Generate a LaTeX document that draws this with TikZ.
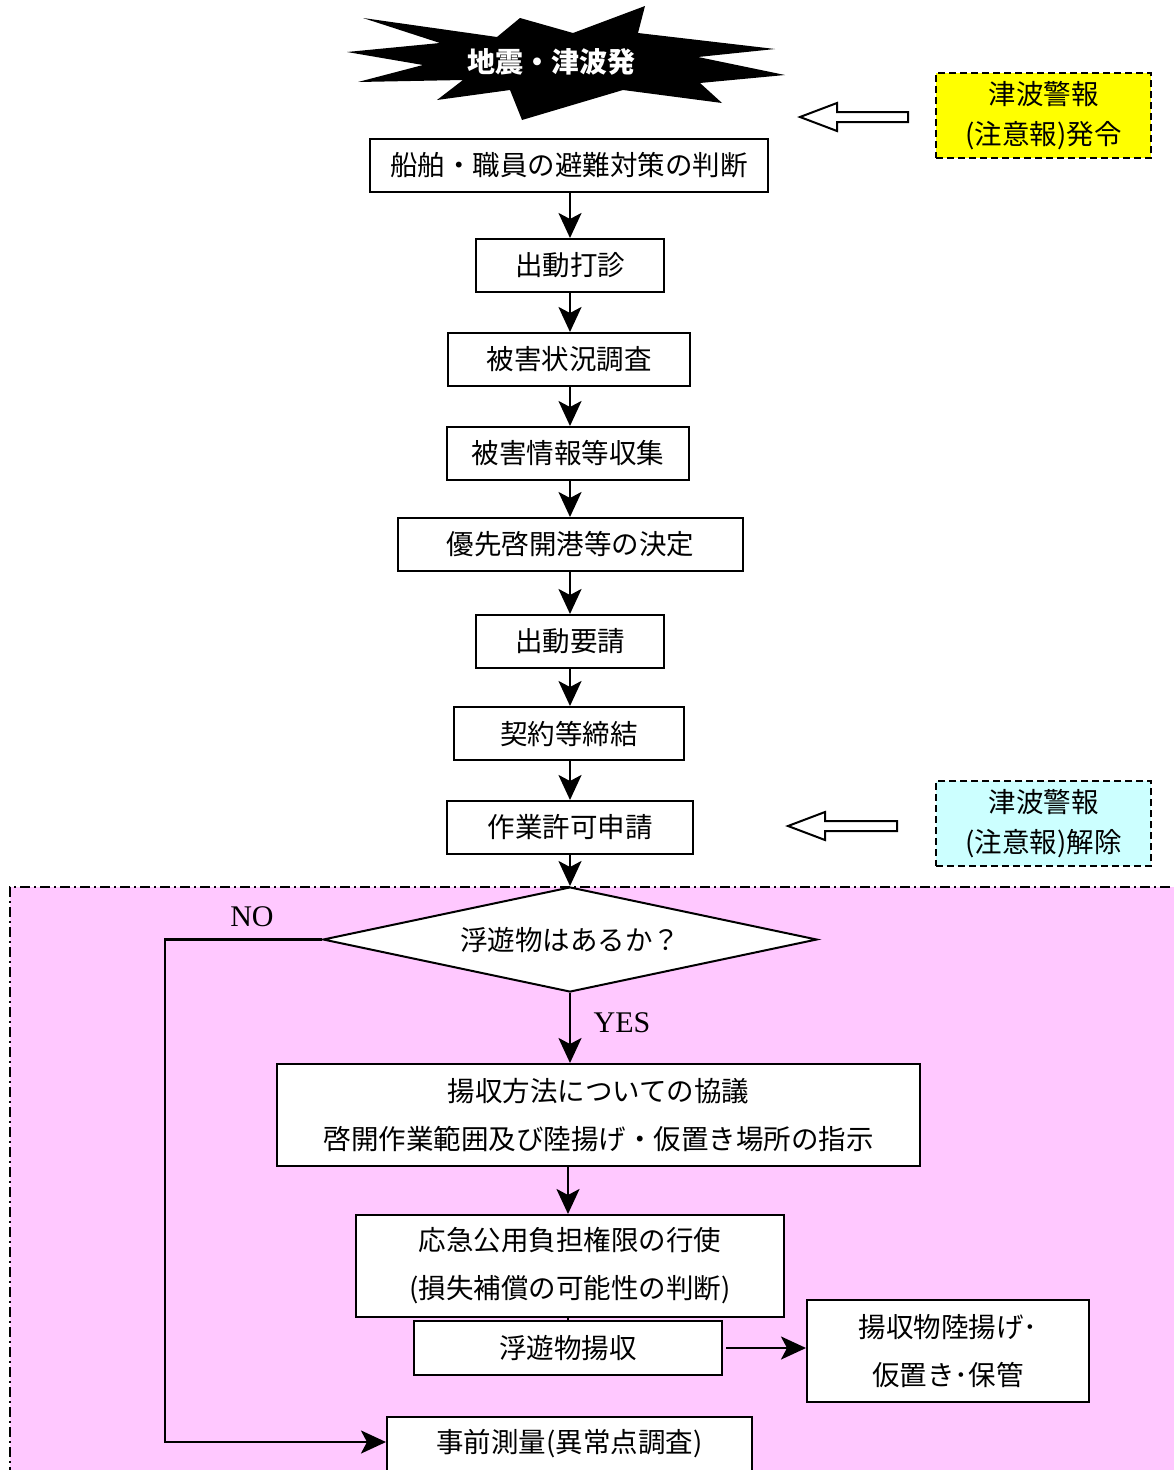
\documentclass[tikz,border=0pt]{standalone}
\usepackage{fontspec}
\setmainfont{Noto Sans CJK JP}
\newfontfamily\latinserif{Liberation Serif}
\usetikzlibrary{arrows.meta,shapes.geometric}
\definecolor{pinkbg}{RGB}{255,200,255}
\definecolor{cyanbg}{RGB}{204,255,255}
\definecolor{yellowbg}{RGB}{255,255,0}
\tikzset{
  box/.style={draw, line width=2pt, fill=white, inner sep=0pt, minimum height=53pt,
    font=\fontsize{27.5}{48}\selectfont, align=center},
  tallbox/.style={box, minimum height=102pt},
  notebox/.style={draw, dashed, dash pattern=on 7pt off 4pt, line width=2pt, inner sep=0pt,
    minimum width=215pt, minimum height=85pt, font=\fontsize{27.5}{40}\selectfont, align=center},
  flow/.style={line width=2.6pt, -{Stealth[length=25pt,width=23pt,inset=6pt]}},
  plain/.style={line width=2pt},
  lbl/.style={font=\latinserif\fontsize{30}{32}\selectfont, inner sep=0pt},
  hollow/.style={draw, line width=2pt, fill=white},
}
\begin{document}
\begin{tikzpicture}[x=1pt,y=-1pt]
\useasboundingbox (0,0) rectangle (1173,1470);
\fill[white] (0,0) rectangle (1173,1470);
% pink region
\fill[pinkbg] (10,887) rectangle (1190,1490);
\draw[line width=2pt, dash pattern=on 10pt off 4pt on 2pt off 4pt] (1190,887) -- (10,887) -- (10,1490);
% starburst
\fill[black] (347,52) -- (440,43) -- (363,18) -- (497,37) -- (520,18) -- (573,33) -- (645,6)
  -- (638,33) -- (775,49) -- (698,57) -- (785,75) -- (700,83) -- (722,103) -- (623,90)
  -- (522,120) -- (510,90) -- (437,100) -- (463,80) -- (358,82) -- (423,65) -- cycle;
\node[text=white, font=\fontsize{28}{30}\selectfont\bfseries, inner sep=0pt] (quake) at (551,62) {地震・津波発};
% notes
\node[notebox, fill=yellowbg] (warn) at (1043.5,115.5) {津波警報\\(注意報)発令};
\node[notebox, fill=cyanbg] (clear) at (1043.5,823.5) {津波警報\\(注意報)解除};
\draw[hollow] (800,117) -- (837,103) -- (837,112) -- (908,112) -- (908,122) -- (837,122) -- (837,131) -- cycle;
\draw[hollow] (788,826) -- (825,812) -- (825,821) -- (897,821) -- (897,831) -- (825,831) -- (825,840) -- cycle;
% main flow boxes
\node[box, minimum width=398pt] (b1) at (569,165.5) {船舶・職員の避難対策の判断};
\node[box, minimum width=188pt] (b2) at (570,265.5) {出動打診};
\node[box, minimum width=242pt] (b3) at (569,359.5) {被害状況調査};
\node[box, minimum width=242pt] (b4) at (568,453.5) {被害情報等収集};
\node[box, minimum width=345pt] (b5) at (570.5,544.5) {優先啓開港等の決定};
\node[box, minimum width=188pt] (b6) at (570,641.5) {出動要請};
\node[box, minimum width=230pt] (b7) at (569,733.5) {契約等締結};
\node[box, minimum width=246pt] (b8) at (570,827.5) {作業許可申請};
\node[diamond, draw, line width=2pt, fill=white, inner sep=0pt, aspect=4.7,
  minimum width=494pt, minimum height=105pt, font=\fontsize{27.5}{30}\selectfont] (q) at (570,939.5) {浮遊物はあるか？};
\node[tallbox, minimum width=643pt] (b9) at (598.5,1115) {揚収方法についての協議\\啓開作業範囲及び陸揚げ・仮置き場所の指示};
\node[tallbox, minimum width=428pt] (b10) at (570,1266) {応急公用負担権限の行使\\(損失補償の可能性の判断)};
\node[box, minimum width=308pt, minimum height=54pt] (b11) at (568,1348) {浮遊物揚収};
\node[tallbox, minimum width=282pt] (b12) at (948,1351) {揚収物陸揚げ･\\仮置き･保管};
\node[box, minimum width=365pt, minimum height=54pt] (b13) at (569.5,1444) {事前測量(異常点調査)};
% connectors
\foreach \a/\b in {b1/b2,b2/b3,b3/b4,b4/b5,b5/b6,b6/b7,b7/b8} {
  \draw[flow] (570,0 |- \a.south) -- (570,0 |- \b.north);
}
\draw[flow] (570,0 |- b8.south) -- (q.north);
\draw[flow] (q.south) -- (570,0 |- b9.north);
\draw[flow] (568,0 |- b9.south) -- (568,0 |- b10.north);
\draw[plain] (568,0 |- b10.south) -- (568,0 |- b11.north);
\draw[flow] ([xshift=3pt]b11.east) -- (b12.west |- b11.east);
\coordinate (nocorner) at (165,939.5);
\coordinate (nodown) at (165,1442);
\draw[flow] (q.west) -- (nocorner) -- (nodown) -- (b13.west |- nodown);
\node[lbl] (nolbl) at (252,917) {NO};
\node[lbl] (yeslbl) at (622,1023) {YES};
\end{tikzpicture}
\end{document}
